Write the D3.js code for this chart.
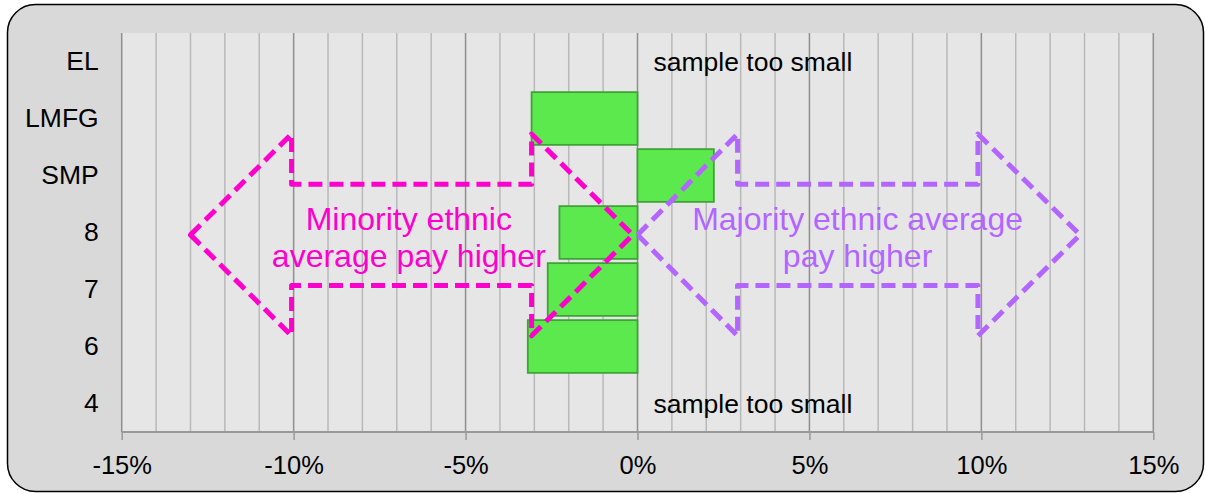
<!DOCTYPE html>
<html>
<head>
<meta charset="utf-8">
<script src="https://cdn.jsdelivr.net/npm/d3@7/dist/d3.min.js"></script>
<style>
  html, body { margin: 0; padding: 0; background: #ffffff; }
  svg { display: block; font-family: "Liberation Sans", Arial, sans-serif; }
</style>
</head>
<body>
<svg id="chart" width="1205" height="493"></svg>
<script>
// ---- data ----
const categories = ["EL", "LMFG", "SMP", "8", "7", "6", "4"];
const payGap = [null, -0.0308, 0.0222, -0.0227, -0.0261, -0.0319, null];
const noteText = "sample too small";
const xTickValues = [-0.15, -0.10, -0.05, 0, 0.05, 0.10, 0.15];
const xTickLabels = ["-15%", "-10%", "-5%", "0%", "5%", "10%", "15%"];
const minorTickValues = d3.range(-15, 16).map(v => v / 100);
const minorityLabel = ["Minority ethnic", "average pay higher"];
const majorityLabel = ["Majority ethnic average", "pay higher"];
// arrow x-stops (tip, head base, head base, tip) in data units
const minorityArrowX = [-0.13, -0.1006, -0.0308, -0.0014];
const majorityArrowX = [0.0, 0.0291, 0.099, 0.1287];

// ---- layout ----
const svg = d3.select("#chart");
const plot = { left: 121.7, right: 1153.3, top: 33, bottom: 432 };

const x = d3.scaleLinear().domain([-0.15, 0.15]).range([plot.left, plot.right]);
const y = d3.scaleBand().domain(categories).range([plot.top, plot.bottom]).paddingInner(0.075).paddingOuter(0.0375);
const yFrac = d3.scaleLinear().domain([0, 1]).range([plot.top, plot.bottom]);

// outer panel
svg.append("rect")
  .attr("x", 7.5).attr("y", 4.5).attr("width", 1196).attr("height", 487)
  .attr("rx", 28).attr("ry", 28)
  .attr("fill", "#d9d9d9").attr("stroke", "#000").attr("stroke-width", 1.5);

// plot area
svg.append("rect")
  .attr("x", plot.left).attr("y", plot.top)
  .attr("width", plot.right - plot.left).attr("height", plot.bottom - plot.top)
  .attr("fill", "#e6e6e6");

// gridlines
svg.append("g").selectAll("line").data(minorTickValues).join("line")
  .attr("x1", d => x(d)).attr("x2", d => x(d))
  .attr("y1", plot.top).attr("y2", plot.bottom)
  .attr("stroke", d => (Math.round(d * 100) % 5 === 0) ? "#8f8f8f" : "#b9b9b9")
  .attr("stroke-width", 1.5);

// x axis
const xAxis = d3.axisBottom(x).tickValues(xTickValues)
  .tickFormat((d, i) => xTickLabels[i]).tickSize(8).tickPadding(11);
const gx = svg.append("g").attr("transform", `translate(0,${plot.bottom})`).call(xAxis);
gx.select(".domain").attr("stroke", "#999").attr("stroke-width", 2).attr("d", `M${plot.left},0H${plot.right}`);
gx.selectAll(".tick line").attr("stroke", "#999").attr("stroke-width", 1.5);
gx.selectAll(".tick text").attr("font-size", 25.5).attr("fill", "#000")
  .attr("font-family", "Liberation Sans, Arial, sans-serif").attr("dy", "0.92em");

// y axis labels
const yAxis = d3.axisLeft(y).tickSize(0).tickPadding(23);
const gy = svg.append("g").attr("transform", `translate(${plot.left},0)`).call(yAxis);
gy.select(".domain").remove();
gy.selectAll(".tick text").attr("font-size", 26.5).attr("fill", "#000")
  .attr("font-family", "Liberation Sans, Arial, sans-serif");

// bars
const rows = categories.map((c, i) => ({ cat: c, v: payGap[i] }));
svg.append("g").selectAll("rect").data(rows.filter(d => d.v !== null)).join("rect")
  .attr("x", d => x(Math.min(0, d.v)))
  .attr("width", d => Math.abs(x(d.v) - x(0)))
  .attr("y", d => y(d.cat))
  .attr("height", y.bandwidth())
  .attr("fill", "#5ce94d").attr("stroke", "#3fa337").attr("stroke-width", 1.8);

// notes
svg.append("g").selectAll("text").data(rows.filter(d => d.v === null)).join("text")
  .attr("x", x(0) + 16)
  .attr("y", d => y(d.cat) + y.bandwidth() / 2)
  .attr("dy", "0.36em")
  .attr("font-size", 26.5).attr("fill", "#000")
  .text(noteText);

// arrows
function arrowPath(xs) {
  const c = 0.506, hh = 0.253, sh = 0.127;
  const [a, b, e, f] = xs.map(v => x(v));
  const pts = [
    [a, yFrac(c)], [b, yFrac(c - hh)], [b, yFrac(c - sh)], [e, yFrac(c - sh)],
    [e, yFrac(c - hh)], [f, yFrac(c)], [e, yFrac(c + hh)], [e, yFrac(c + sh)],
    [b, yFrac(c + sh)], [b, yFrac(c + hh)]
  ];
  return d3.line()(pts) + "Z";
}
svg.append("path").attr("d", arrowPath(minorityArrowX))
  .attr("fill", "none").attr("stroke", "#ff00cc").attr("stroke-width", 5)
  .attr("stroke-dasharray", "14,7").attr("stroke-linejoin", "round");
svg.append("path").attr("d", arrowPath(majorityArrowX))
  .attr("fill", "none").attr("stroke", "#b366ff").attr("stroke-width", 5)
  .attr("stroke-dasharray", "14,7").attr("stroke-linejoin", "round");

// arrow labels
function label(lines, cx, color) {
  const t = svg.append("text").attr("text-anchor", "middle")
    .attr("font-size", 32).attr("fill", color);
  lines.forEach((l, i) => {
    t.append("tspan").attr("x", cx).attr("y", 230 + i * 37).text(l);
  });
}
label(minorityLabel, x(-0.0665), "#ff00cc");
label(majorityLabel, x(0.064), "#b366ff");
</script>
</body>
</html>
